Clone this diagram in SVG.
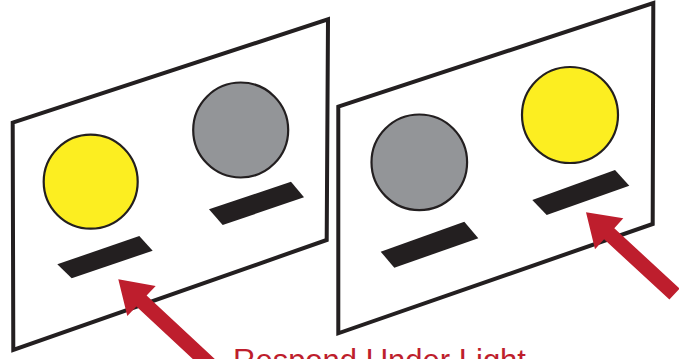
<svg xmlns="http://www.w3.org/2000/svg" width="679" height="359" viewBox="0 0 679 359">
<style>
.panel{fill:#fff;stroke:#231f20;stroke-width:4;stroke-linejoin:miter}
.yellow{fill:#fcee21;stroke:#231f20;stroke-width:2.2}
.gray{fill:#939598;stroke:#231f20;stroke-width:2.2}
.bar{fill:#231f20}
.arrow{fill:#be1e2d}
.label{font-family:"Liberation Sans",Arial,sans-serif;font-size:31px;fill:#be1e2d}
</style>
<rect width="679" height="359" fill="#fff"/>
<g id="panel-left">
<polygon class="panel" points="12.7,122.7 328,19.3 326.7,240 13.3,350"/>
<circle class="yellow" cx="90.7" cy="181.7" r="47"/>
<circle class="gray" cx="240.7" cy="130" r="47.5"/>
<polygon class="bar" points="57.3,264.3 139.3,236 152.7,250.7 71.7,278.3"/>
<polygon class="bar" points="209,209.3 291,181.7 304,197.3 222.7,225"/>
</g>
<g id="panel-right">
<polygon class="panel" points="338.3,106.7 653.3,3 652.7,224 338.3,333.3"/>
<circle class="gray" cx="419.3" cy="162.3" r="47.8"/>
<circle class="yellow" cx="570" cy="115" r="48"/>
<polygon class="bar" points="380.7,251.7 464.3,221.7 478.3,238.3 394.3,267.7"/>
<polygon class="bar" points="532.3,200 615,170 629.3,185.7 546.7,215"/>
</g>
<g id="connectors">
<polygon class="arrow" points="118.3,279.3 155.7,286 146.6,295.5 220.4,364.2 210.2,375.2 136.4,306.5 127.3,316"/>
<polygon class="arrow" points="586,212.3 623.3,218.3 614.3,228.3 679.6,288.5 669.4,299.5 604.1,239.3 595,249.3"/>
</g>
<g id="label">
<text class="label" x="233" y="371">Respond Under Light</text>
</g>
</svg>
